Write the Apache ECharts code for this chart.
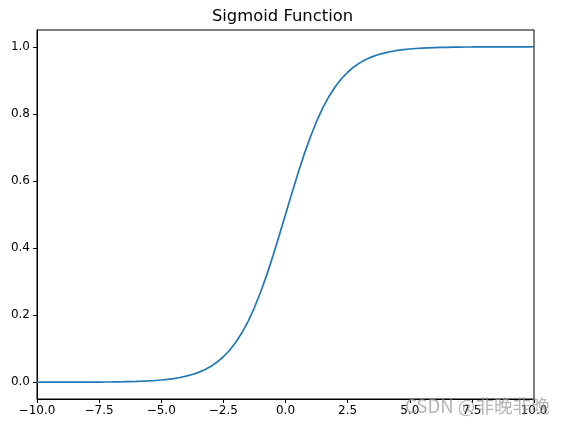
<!DOCTYPE html>
<html><head><meta charset="utf-8">
<script src="https://cdn.jsdelivr.net/npm/echarts@6/dist/echarts.min.js"></script>
<style>html,body{margin:0;padding:0;background:#fff}#c{width:565px;height:427px}</style>
</head><body><div id="c"></div>
<script>
const xValues = [-10,-9.75,-9.5,-9.25,-9,-8.75,-8.5,-8.25,-8,-7.75,-7.5,-7.25,-7,-6.75,-6.5,-6.25,-6,-5.75,-5.5,-5.25,-5,-4.75,-4.5,-4.25,-4,-3.75,-3.5,-3.25,-3,-2.75,-2.5,-2.25,-2,-1.75,-1.5,-1.25,-1,-0.75,-0.5,-0.25,
  0,0.25,0.5,0.75,1,1.25,1.5,1.75,2,2.25,2.5,2.75,3,3.25,3.5,3.75,4,4.25,4.5,4.75,5,5.25,5.5,5.75,6,6.25,6.5,6.75,7,7.25,7.5,7.75,8,8.25,8.5,8.75,9,9.25,9.5,9.75,10];
const yValues = [0.0000,0.0001,0.0001,0.0001,0.0001,0.0002,0.0002,0.0003,0.0003,0.0004,0.0006,0.0007,0.0009,0.0012,0.0015,0.0019,0.0025,0.0032,0.0041,0.0052,0.0067,0.0086,0.0110,0.0141,0.0180,0.0230,0.0293,0.0373,0.0474,0.0601,0.0759,0.0953,0.1192,0.1480,0.1824,0.2227,0.2689,0.3208,0.3775,0.4378,
  0.5000,0.5622,0.6225,0.6792,0.7311,0.7773,0.8176,0.8520,0.8808,0.9047,0.9241,0.9399,0.9526,0.9627,0.9707,0.9770,0.9820,0.9859,0.9890,0.9914,0.9933,0.9948,0.9959,0.9968,0.9975,0.9981,0.9985,0.9988,0.9991,0.9993,0.9994,0.9996,0.9997,0.9997,0.9998,0.9998,0.9999,0.9999,0.9999,0.9999,1.0000];
const yTicks = [0,0.2,0.4,0.6,0.8,1.0];
const title = 'Sigmoid Function';
const watermark = 'CSDN @非晚非晚';

const font = 'DejaVu Sans';
const fmt = v => (v < 0 ? '\u2212' + Math.abs(v).toFixed(1) : v.toFixed(1));
const chart = echarts.init(document.getElementById('c'), null, {renderer:'canvas'});
chart.setOption({
  animation:false,
  backgroundColor:'#fff',
  title:{text:title,left:'center',top:4,textStyle:{fontFamily:font,fontSize:16.4,fontWeight:'normal',color:'#000'}},
  grid:{left:37,right:31,top:30,bottom:28,show:true,borderColor:'#000',borderWidth:1,backgroundColor:'transparent'},
  xAxis:{type:'value',min:-10,max:10,interval:2.5,
    axisLine:{show:true,onZero:false,lineStyle:{color:'#000',width:1}},
    axisTick:{show:true,inside:false,length:4,lineStyle:{color:'#000'}},
    splitLine:{show:false},
    axisLabel:{show:true,margin:6,color:'#000',fontFamily:font,fontSize:12,formatter:fmt,showMinLabel:true,showMaxLabel:true}},
  yAxis:{type:'value',min:-0.05,max:1.05,
    axisLine:{show:true,onZero:false,lineStyle:{color:'#000',width:1}},
    axisTick:{show:true,inside:false,length:4,lineStyle:{color:'#000'},customValues:yTicks},
    splitLine:{show:false},
    axisLabel:{show:true,margin:7,color:'#000',fontFamily:font,fontSize:12,formatter:v=>fmt(v),customValues:yTicks}},
  series:[{type:'line',data:xValues.map((x,i)=>[x,yValues[i]]),showSymbol:false,smooth:false,
    lineStyle:{color:'#1f77b4',width:1.7},clip:true}],
  graphic:[{type:'text',left:405,top:397,z:100,style:{text:watermark,fontFamily:'Noto Sans CJK SC',fontSize:18.6,fill:'rgba(150,150,150,0.7)'}}]
});
</script></body></html>
